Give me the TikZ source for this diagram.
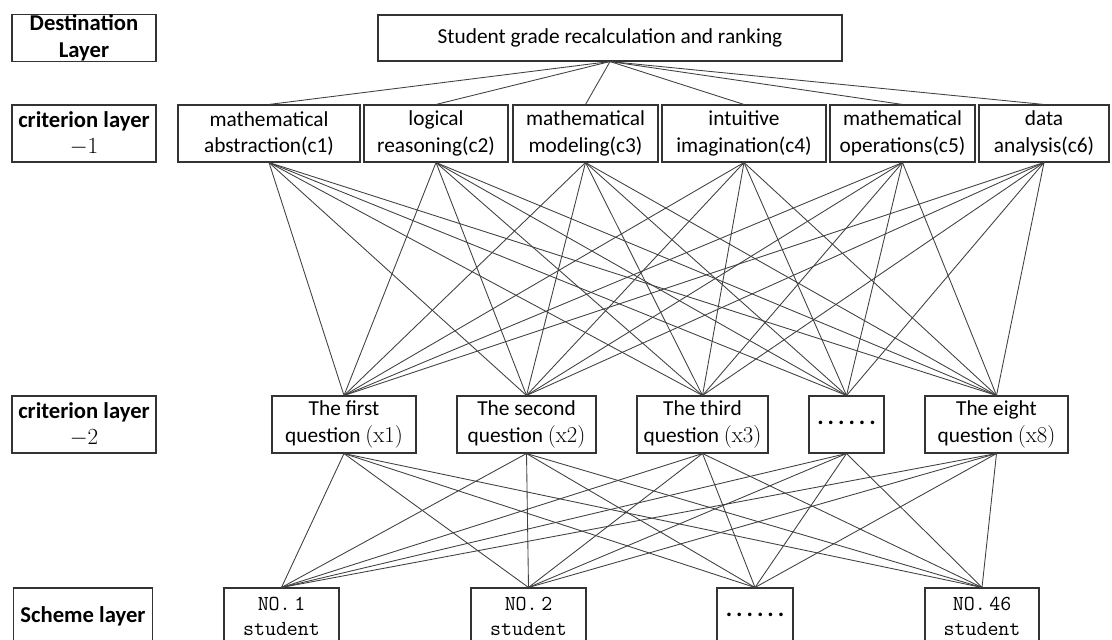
\documentclass[tikz,border=0pt]{standalone}
\usepackage{fontspec}
\newfontfamily\calibri{Carlito}

\begin{document}
\begin{tikzpicture}[x=0.75pt,y=-0.75pt]
    \tikzstyle{every node}=[draw=black!80, line width=0.8pt, inner sep=0pt, align=center, minimum height=42.75pt, font=\calibri\fontsize{16}{20}\selectfont]
    \tikzstyle{layer}=[minimum width=108pt, font=\calibri\bfseries\fontsize{17}{20}\selectfont]
    \tikzstyle{pupil}=[font=\ttfamily\fontsize{16}{19}\selectfont]
    \tikzstyle{link}=[draw=black!75, line width=0.65pt]

    \useasboundingbox (0,0) rectangle (1112,639);
    \clip (0,0) rectangle (1112,639);

    \node[layer, minimum height=34.5pt] (lgoal) at (84,38) {Destination\\Layer};
    \node[layer] (lcrit1) at (84,133.5) {criterion layer\\$-1$};
    \node[layer] (lcrit2) at (84,424.5) {criterion layer\\$-2$};
    \node[layer, minimum width=104.25pt] (lscheme) at (83,616.5) {Scheme layer};

    \node[minimum width=348pt, minimum height=34.5pt] (goal) at (610,38) {Student grade recalculation and ranking};

    \node[minimum width=136.5pt] (c1) at (269,133.5) {mathematical\\abstraction(c1)};
    \node[minimum width=108pt] (c2) at (436,133.5) {logical\\reasoning(c2)};
    \node[minimum width=108.75pt] (c3) at (585.5,133.5) {mathematical\\modeling(c3)};
    \node[minimum width=123pt] (c4) at (744,133.5) {intuitive\\imagination(c4)};
    \node[minimum width=108.75pt] (c5) at (902.5,133.5) {mathematical\\operations(c5)};
    \node[minimum width=97.5pt] (c6) at (1044,133.5) {data\\analysis(c6)};

    \node[minimum width=108pt] (x1) at (344,424.5) {The first\\question {\rmfamily\fontsize{17}{20}\selectfont(x1)}};
    \node[minimum width=104.25pt] (x2) at (526.5,424.5) {The second\\question {\rmfamily\fontsize{17}{20}\selectfont(x2)}};
    \node[minimum width=98.25pt] (x3) at (702.5,424.5) {The third\\question {\rmfamily\fontsize{17}{20}\selectfont(x3)}};
    \node[minimum width=56.25pt] (xd) at (846.5,424.5) {\raisebox{0.3ex}{\fontsize{18}{20}\selectfont\textbf{.\,.\,.\,.\,.\,.}}};
    \node[minimum width=107.25pt] (x8) at (996.5,424.5) {The eight\\question {\rmfamily\fontsize{17}{20}\selectfont(x8)}};

    \node[pupil, minimum width=86.25pt] (s1) at (281.5,616.5) {NO.\,1\\student};
    \node[pupil, minimum width=86.25pt] (s2) at (528.5,616.5) {NO.\,2\\student};
    \node[minimum width=57pt] (sd) at (755,616.5) {\raisebox{0.3ex}{\fontsize{18}{20}\selectfont\textbf{.\,.\,.\,.\,.\,.}}};
    \node[pupil, minimum width=85.5pt] (s46) at (982,616.5) {NO.\,46\\student};

    \foreach \i in {1,...,6}
        \draw[link] (goal.south) -- (c\i.north);
    \foreach \i in {1,...,6}
        \foreach \j in {1,2,3,d,8}
            \draw[link] (c\i.south) -- (x\j.north);
    \foreach \j in {1,2,3,d,8}
        \foreach \k in {1,2,d,46}
            \draw[link] (x\j.south) -- (s\k.north);
\end{tikzpicture}
\end{document}
